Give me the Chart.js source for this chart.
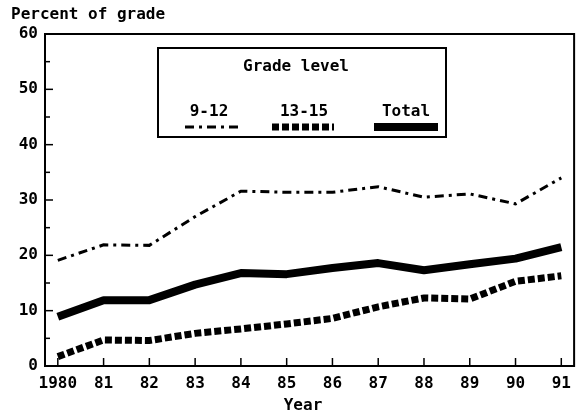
<!DOCTYPE html>
<html><head><meta charset="utf-8">
<script src="https://cdn.jsdelivr.net/npm/chart.js@4"></script>
<style>html,body{margin:0;padding:0;background:#fff}#wrap{width:579px;height:415px}</style>
</head><body><div id="wrap"><canvas id="c" width="579" height="415"></canvas></div>
<script>
const years = [1980,1981,1982,1983,1984,1985,1986,1987,1988,1989,1990,1991];
const xTickLabels = ['1980','81','82','83','84','85','86','87','88','89','90','91'];
const grade9to12 = [19.1,21.9,21.8,27.0,31.6,31.4,31.4,32.4,30.5,31.1,29.3,34.0];
const grade13to15 = [1.7,4.7,4.6,5.9,6.7,7.6,8.6,10.7,12.3,12.1,15.3,16.3];
const gradeTotal = [8.9,11.9,11.9,14.7,16.8,16.6,17.7,18.6,17.3,18.4,19.4,21.5];
const seriesLabels = ['9-12','13-15','Total'];
const yTitle = 'Percent of grade';
const xTitle = 'Year';
const legendTitle = 'Grade level';

const FONT = '"DejaVu Sans Mono", "Liberation Mono", monospace';
const toPts = arr => arr.map((v,i)=>({x:years[i], y:v}));

const decor = {
  id:'decor',
  afterDatasetsDraw(chart){
    const ctx = chart.ctx, a = chart.chartArea;
    const xs = chart.scales.x, ys = chart.scales.y;
    ctx.save();
    ctx.strokeStyle='#000'; ctx.lineWidth=2;
    ctx.strokeRect(a.left, a.top, a.right-a.left, a.bottom-a.top);
    ctx.lineWidth=1.5;
    for(let v=0; v<=60; v+=5){
      const y = ys.getPixelForValue(v);
      const len = v%10===0 ? 8 : 5;
      ctx.beginPath(); ctx.moveTo(a.left,y); ctx.lineTo(a.left+len,y); ctx.stroke();
    }
    years.forEach(yr=>{
      const x = xs.getPixelForValue(yr);
      ctx.beginPath(); ctx.moveTo(x,a.bottom); ctx.lineTo(x,a.bottom-8); ctx.stroke();
    });
    ctx.fillStyle='#000';
    ctx.font='bold 16px '+FONT;
    ctx.textAlign='left'; ctx.textBaseline='middle';
    ctx.fillText(yTitle, 11, 15);
    ctx.textAlign='center';
    ctx.fillText(xTitle, 303, 406);
    ctx.lineWidth=2;
    ctx.strokeRect(158, 48, 288, 89);
    ctx.fillText(legendTitle, 296, 67);
    const cx=[209,304,406], x0=[185,272,374], x1=[240,334,438];
    chart.data.datasets.forEach((ds,i)=>{
      ctx.fillText(ds.label, cx[i], 112);
      ctx.save();
      ctx.strokeStyle='#000';
      ctx.lineWidth = ds.borderWidth;
      ctx.setLineDash(ds.borderDash||[]);
      ctx.lineCap='butt';
      ctx.beginPath(); ctx.moveTo(x0[i],127); ctx.lineTo(x1[i],127); ctx.stroke();
      ctx.restore();
    });
    ctx.restore();
  }
};

new Chart(document.getElementById('c'), {
  type:'line',
  data:{datasets:[
    {label:seriesLabels[0], data:toPts(grade9to12), borderColor:'#000', borderWidth:3, borderDash:[9,5,3,5], pointRadius:0, tension:0},
    {label:seriesLabels[1], data:toPts(grade13to15), borderColor:'#000', borderWidth:7, borderDash:[7,3], pointRadius:0, tension:0},
    {label:seriesLabels[2], data:toPts(gradeTotal), borderColor:'#000', borderWidth:8, pointRadius:0, tension:0, borderJoinStyle:'round'}
  ]},
  options:{
    responsive:false, animation:false, devicePixelRatio:1,
    layout:{padding:{top:34,right:3,left:0,bottom:0}},
    plugins:{legend:{display:false}, tooltip:{enabled:false}},
    scales:{
      x:{type:'linear', min:1979.72, max:1991.28,
        afterFit(s){s.height=49;},
        afterBuildTicks(s){s.ticks = years.map(v=>({value:v}));},
        grid:{display:false, drawTicks:false}, border:{display:false},
        ticks:{padding:8, color:'#000', font:{family:FONT,size:16,weight:'bold'}, maxRotation:0, autoSkip:false,
          callback:(v)=>{const i=years.indexOf(v); return i>=0?xTickLabels[i]:'';}}},
      y:{min:0, max:60,
        afterFit(s){s.width=45;},
        grid:{display:false, drawTicks:false}, border:{display:false},
        ticks:{stepSize:10, padding:7, color:'#000', font:{family:FONT,size:16,weight:'bold'}}}
    }
  },
  plugins:[decor]
});
</script></body></html>
